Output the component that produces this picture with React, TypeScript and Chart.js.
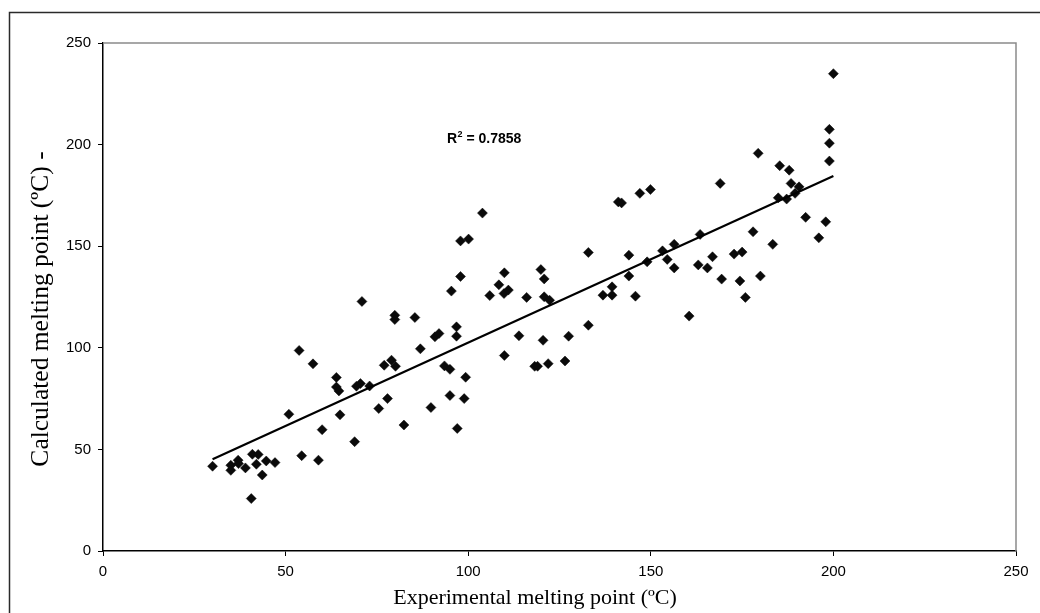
import { useEffect, useRef } from "react";
import { Chart, registerables } from "chart.js";

Chart.register(...registerables);

// Experimental melting point (ºC)
const experimental = [
  30, 35, 35, 37, 37.1, 39, 40.6, 40.9, 42.5, 42, 43.6, 44.7, 47.1, 50.9, 54.4, 53.7, 57.5, 59, 60, 63.9,
  63.9, 64.6, 64.9, 68.9, 69.4, 70.5, 70.9, 73, 75.5, 77, 77.9, 79, 79.9, 79.9, 80.1, 82.4, 85.4, 86.9, 89.8, 90.9,
  92, 93.5, 95, 95.4, 95, 96.8, 96.8, 97, 97.9, 100.1, 97.9, 98.9, 99.3, 103.9, 105.9, 108.4, 109.9, 109.8, 111, 109.9,
  113.9, 116, 118.2, 119, 119.9, 120.8, 120.8, 120.5, 121.9, 122.3, 126.5, 127.5, 132.9, 132.9, 136.9, 139.4, 139.4, 141.1, 142, 144,
  144, 145.8, 147, 149, 149.9, 153.2, 154.5, 156.4, 156.4, 160.5, 163.5, 163, 165.5, 166.9, 169, 169.4, 172.8, 174.4, 175, 175.9,
  178, 179.4, 180, 183.4, 184.9, 185.3, 187.2, 187.9, 188.4, 189.5, 190.6, 192.4, 196, 197.9, 198.9, 198.9, 198.9, 200,
];

// Calculated melting point (ºC)
const calculated = [
  41.7, 42.2, 39.7, 44.7, 43, 40.9, 25.8, 47.6, 47.5, 42.7, 37.4, 44.3, 43.5, 67.3, 46.9, 98.7, 92.1, 44.7, 59.7, 85.4,
  80.7, 78.8, 67, 53.8, 81.1, 82.4, 122.8, 81.2, 70.1, 91.4, 75, 93.9, 116, 113.9, 90.9, 62, 114.9, 99.5, 70.6, 105.4,
  107, 91.1, 89.4, 127.9, 76.5, 110.3, 105.7, 60.3, 152.6, 153.5, 135.1, 75, 85.5, 166.3, 125.7, 131, 136.9, 126.7, 128.4, 96.2,
  105.9, 124.8, 90.9, 90.9, 138.5, 133.9, 125.1, 103.7, 92.2, 123.4, 93.5, 105.7, 146.9, 111.1, 125.9, 130, 125.9, 171.8, 171.3, 145.6,
  135.3, 125.4, 176, 142.3, 177.9, 147.7, 143.5, 150.9, 139.3, 115.6, 155.8, 140.8, 139.3, 144.8, 180.9, 133.8, 146.1, 132.9, 147.1, 124.8,
  157.1, 195.7, 135.3, 150.9, 173.8, 189.6, 173.2, 187.4, 180.9, 176, 179.2, 164.2, 154.1, 162, 191.9, 200.7, 207.5, 234.9,
];

// Linear trendline end points
const trendX = [30, 200];
const trendY = [45.1, 184.6];

const xTicks = [0, 50, 100, 150, 200, 250];
const yTicks = [0, 50, 100, 150, 200, 250];

const xTitle = "Experimental melting point (ºC)";
const yTitle = "Calculated melting point (ºC) -";
const r2Value = "0.7858";

const decorPlugin = {
  id: "decor",
  beforeDraw(chart: any) {
    const ctx = chart.ctx;
    ctx.save();
    ctx.fillStyle = "#ffffff";
    ctx.fillRect(0, 0, chart.width, chart.height);
    ctx.restore();
  },
  afterDraw(chart: any) {
    const ctx = chart.ctx;
    const a = chart.chartArea;
    ctx.save();
    // plot area border (top & right)
    ctx.strokeStyle = "#8a8a8a";
    ctx.lineWidth = 1.5;
    ctx.beginPath();
    ctx.moveTo(a.left, a.top);
    ctx.lineTo(a.right, a.top);
    ctx.lineTo(a.right, a.bottom);
    ctx.stroke();
    // outer frame
    ctx.strokeStyle = "#2a2a2a";
    ctx.lineWidth = 1.5;
    ctx.beginPath();
    ctx.moveTo(9.5, chart.height);
    ctx.lineTo(9.5, 12.5);
    ctx.lineTo(chart.width, 12.5);
    ctx.stroke();

    // axis titles
    ctx.fillStyle = "#000";
    ctx.textAlign = "center";
    ctx.textBaseline = "alphabetic";
    ctx.font = '22px "Liberation Serif", "Times New Roman", serif';
    ctx.fillText(xTitle, 535, 604);
    ctx.save();
    ctx.font = '25.5px "Liberation Serif", "Times New Roman", serif';
    ctx.translate(48, 309);
    ctx.rotate(-Math.PI / 2);
    ctx.fillText(yTitle, 0, 0);
    ctx.restore();

    // R² label
    ctx.textAlign = "left";
    ctx.font = 'bold 14px "Liberation Sans", Arial, sans-serif';
    let x = 447;
    const base = 143;
    ctx.fillText("R", x, base);
    x += ctx.measureText("R").width;
    ctx.font = 'bold 9px "Liberation Sans", Arial, sans-serif';
    ctx.fillText("2", x + 0.5, base - 6);
    x += ctx.measureText("2").width + 0.5;
    ctx.font = 'bold 14px "Liberation Sans", Arial, sans-serif';
    ctx.fillText(" = " + r2Value, x, base);
    ctx.restore();
  },
};

export default function App() {
  const ref = useRef<HTMLCanvasElement | null>(null);

  useEffect(() => {
    if (!ref.current) return;
    const points = experimental.map((v, i) => ({ x: v, y: calculated[i] }));
    const trend = trendX.map((v, i) => ({ x: v, y: trendY[i] }));
    const tickFont = { family: '"Liberation Sans", Arial, sans-serif', size: 15 };

    const chart = new Chart(ref.current, {
      type: "scatter",
      data: {
        datasets: [
          {
            label: "Trend",
            data: trend,
            showLine: true,
            borderColor: "#000",
            borderWidth: 2.2,
            pointRadius: 0,
            fill: false,
            order: 0,
          },
          {
            label: "Data",
            data: points,
            pointStyle: "rectRot",
            pointRadius: 5,
            backgroundColor: "#0a0a0a",
            borderColor: "#0a0a0a",
            borderWidth: 0.5,
            order: 1,
          },
        ],
      },
      options: {
        responsive: false,
        animation: false,
        devicePixelRatio: 1,
        layout: { padding: { left: 0, top: 43, right: 24, bottom: 0 } },
        plugins: {
          legend: { display: false },
          tooltip: { enabled: false },
        },
        scales: {
          x: {
            type: "linear",
            min: 0,
            max: 250,
            afterBuildTicks: (s: any) => {
              s.ticks = xTicks.map((v) => ({ value: v }));
            },
            afterFit: (s: any) => {
              s.height = 62;
            },
            border: { display: true, color: "#000", width: 1.5 },
            grid: { drawOnChartArea: false, drawTicks: true, tickLength: 5, color: "#000", lineWidth: 1 },
            ticks: { font: tickFont, color: "#000", padding: 7, maxRotation: 0 },
          },
          y: {
            type: "linear",
            min: 0,
            max: 250,
            afterBuildTicks: (s: any) => {
              s.ticks = yTicks.map((v) => ({ value: v }));
            },
            afterFit: (s: any) => {
              s.width = 103;
            },
            border: { display: true, color: "#000", width: 1.5 },
            grid: { drawOnChartArea: false, drawTicks: true, tickLength: 5, color: "#000", lineWidth: 1 },
            ticks: { font: tickFont, color: "#000", padding: 7 },
          },
        },
      },
      plugins: [decorPlugin],
    } as any);

    return () => chart.destroy();
  }, []);

  return (
    <div style={{ position: "fixed", left: 0, top: 0, width: 1040, height: 613, background: "#fff" }}>
      <canvas ref={ref} width={1040} height={613} style={{ display: "block", width: 1040, height: 613 }} />
    </div>
  );
}
